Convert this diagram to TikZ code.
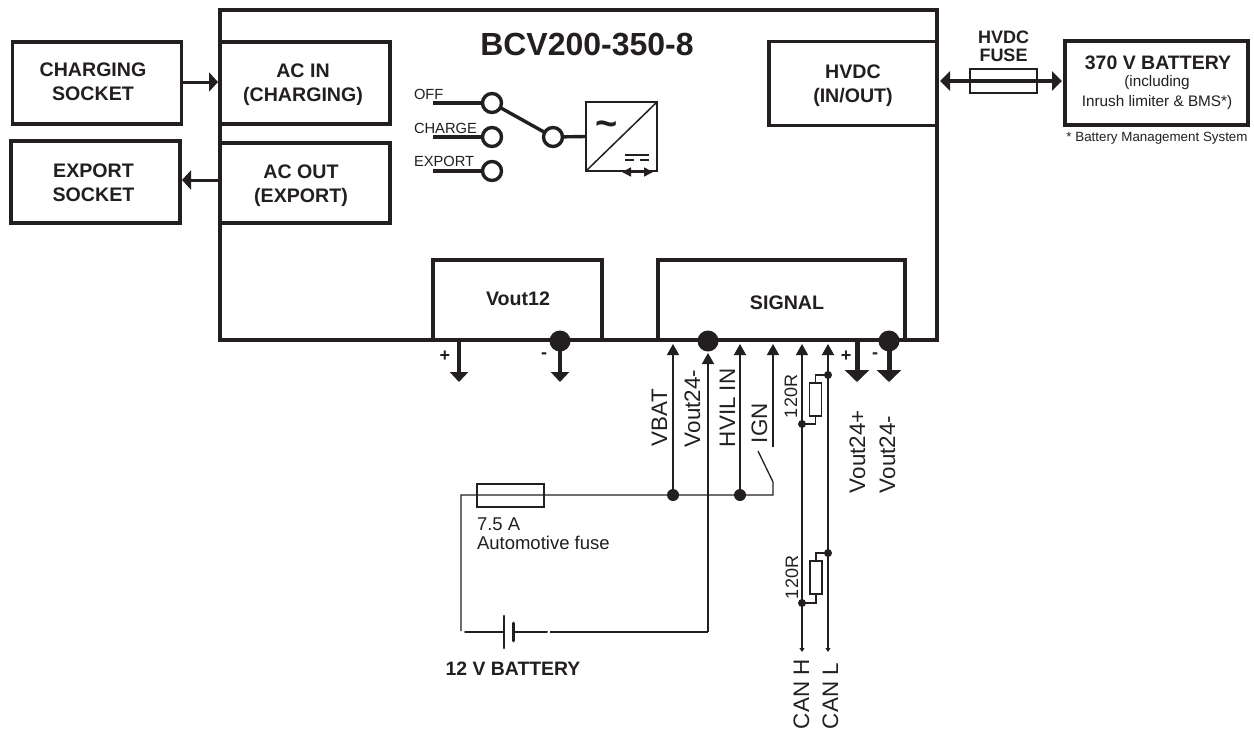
\documentclass[tikz,border=0pt]{standalone}
\usepackage{fontspec}
\setmainfont{Liberation Sans}
\usetikzlibrary{arrows.meta}
\definecolor{ink}{HTML}{231F20}
\newcommand{\fs}[1]{\fontsize{#1}{#1}\selectfont}
\tikzset{
  bx/.style={draw=ink,line width=3.1pt,fill=white,inner sep=0pt,outer sep=0pt},
  bxt/.style={text=ink,inner sep=0pt,outer sep=0pt,align=center,font=\fs{19.6}\bfseries,execute at begin node={\setlength{\baselineskip}{24pt}}},
  thinbx/.style={draw=ink,line width=1.5pt,fill=white,inner sep=0pt,outer sep=0pt},
  sw/.style={circle,draw=ink,line width=3.4pt,fill=white,minimum size=19pt,inner sep=0pt,outer sep=0pt},
  bigdot/.style={circle,fill=ink,minimum size=21pt,inner sep=0pt,outer sep=0pt},
  meddot/.style={circle,fill=ink,minimum size=12pt,inner sep=0pt,outer sep=0pt},
  smalldot/.style={circle,fill=ink,minimum size=8pt,inner sep=0pt,outer sep=0pt},
  wire/.style={draw=ink,line width=1.3pt},
  sigarrow/.style={draw=ink,line width=1.5pt,-{Triangle[width=12pt,length=11pt]}},
  canarrow/.style={draw=ink,line width=1.3pt,-{Triangle[width=5pt,length=4pt]}},
  fatarrow/.style={draw=ink,line width=3pt,-{Triangle[width=19pt,length=9pt]}},
  dblarrow/.style={draw=ink,line width=3.2pt,{Triangle[width=19pt,length=10pt]}-{Triangle[width=19pt,length=10pt]}},
  pwr/.style={draw=ink,line width=3.8pt,-{Triangle[width=18pt,length=10pt]}},
  pwrbig/.style={draw=ink,line width=5pt,-{Triangle[width=24pt,length=12pt]}},
  swline/.style={draw=ink,line width=3.4pt},
  lbl/.style={text=ink,inner sep=0pt,outer sep=0pt,anchor=base west},
  vlbl/.style={text=ink,inner sep=0pt,outer sep=0pt,anchor=base west,rotate=90,font=\fs{22.4}},
  vsmall/.style={text=ink,inner sep=0pt,outer sep=0pt,anchor=base west,rotate=90,font=\fs{18}},
  ctr/.style={text=ink,inner sep=0pt,outer sep=0pt,align=center},
}
\begin{document}
\begin{tikzpicture}[x=1pt,y=-1pt]
\useasboundingbox (0,0) rectangle (1254,731);
\fill[white] (0,0) rectangle (1254,731);

% main box and blocks
\node[bx,minimum width=717pt,minimum height=330pt] (main) at (578.5,175) {};
\node[bx,minimum width=169pt,minimum height=82pt] (csock) at (97,83) {};
\node[bx,minimum width=170pt,minimum height=82pt] (acin) at (305,83) {};
\node[bx,minimum width=169pt,minimum height=82pt] (esock) at (95.5,182) {};
\node[bx,minimum width=170pt,minimum height=80pt] (acout) at (305,183) {};
\node[bx,minimum width=168pt,minimum height=84pt] (hvdc) at (853,83.5) {};
\node[bx,minimum width=183pt,minimum height=84pt] (batt) at (1156.5,83) {};
\node[bx,minimum width=169pt,minimum height=80pt] (vout) at (517.5,300) {};
\node[bx,minimum width=247pt,minimum height=80pt] (signal) at (781.5,300) {};

\node[bxt] (tcsock) at (93,82) {CHARGING\\SOCKET};
\node[bxt] (tacin) at (303,84.5) {AC IN\\(CHARGING)};
\node[bxt] (tesock) at (93.5,183) {EXPORT\\SOCKET};
\node[bxt] (tacout) at (301,186) {AC OUT\\(EXPORT)};
\node[bxt] (thvdc) at (853,85.5) {HVDC\\(IN/OUT)};
\node[bxt] (tvout) at (518,299) {Vout12};
\node[bxt] (tsig) at (787,303) {SIGNAL};

\node[ctr,font=\fs{32}\bfseries] (title) at (587,45) {BCV200-350-8};
\node[ctr,font=\fs{19.5}\bfseries] (battt) at (1158,63) {370 V BATTERY};
\node[ctr,font=\fs{15.3}] (incl) at (1157,83) {(including};
\node[ctr,font=\fs{15.3}] (inr) at (1157,103) {Inrush limiter \& BMS*)};
\node[ctr,font=\fs{13.35}] (foot) at (1157,138) {* Battery Management System};
\node[ctr,font=\fs{18}\bfseries,execute at begin node={\setlength{\baselineskip}{18pt}}] (hfl) at (1003.5,46) {HVDC\\FUSE};

% AC arrows
\coordinate (a1s) at (182,82);
\coordinate (a1e) at (218,82);
\coordinate (a2s) at (220,180);
\coordinate (a2e) at (182,180);
\draw[fatarrow] (a1s) -- (a1e);
\draw[fatarrow] (a2s) -- (a2e);

% HVDC fuse
\coordinate (hl) at (940,81);
\coordinate (hr) at (1062,81);
\draw[dblarrow] (hl) -- (hr);
\node[draw=ink,line width=2pt,minimum width=67pt,minimum height=24pt,inner sep=0pt,outer sep=0pt] (hfuse) at (1003.5,81) {};

% switch
\coordinate (s1) at (433,103);
\coordinate (s2) at (433,137);
\coordinate (s3) at (433,171);
\node[sw] (c1) at (492,103) {};
\node[sw] (c2) at (492,137) {};
\node[sw] (c3) at (492,171) {};
\node[sw] (c4) at (553,137) {};
\draw[swline] (s1) -- (c1);
\draw[swline] (s2) -- (c2);
\draw[swline] (s3) -- (c3);
\draw[swline] (c1) -- (c4);
\node[lbl,font=\fs{14.7}] (toff) at (414,99) {OFF};
\node[lbl,font=\fs{14.7}] (tch) at (414,133) {CHARGE};
\node[lbl,font=\fs{14.7}] (tex) at (414,166) {EXPORT};

% converter
\node[thinbx,minimum width=71pt,minimum height=69pt] (conv) at (621.5,136.5) {};
\draw[swline] (c4) -- (conv.west);
\draw[draw=ink,line width=1.5pt] (conv.south west) -- (conv.north east);
\node[ctr,font=\fs{38}\bfseries] (tilde) at (607,129) {\textasciitilde};
\draw[draw=ink,line width=1.3pt] (625,155) -- (649,155);
\draw[draw=ink,line width=1.3pt] (625,160) -- (634,160) (640,160) -- (649,160);
\draw[draw=ink,line width=1.5pt,{Triangle[width=9pt,length=9pt]}-{Triangle[width=9pt,length=9pt]}] (622,172) -- (653,172);

% Vout12 outputs
\coordinate (p1) at (459,340);
\coordinate (p1e) at (459,382);
\coordinate (p2e) at (560,382);
\draw[pwr] (p1) -- (p1e);
\node[bigdot] (d1) at (560,341) {};
\draw[pwr] (d1.center) -- (p2e);
\node[ctr,font=\fs{18}\bfseries] (tp1) at (445,356) {+};
\node[ctr,font=\fs{18}\bfseries] (tm1) at (544,356) {-};

% SIGNAL outputs
\coordinate (p3) at (857,340);
\coordinate (p3e) at (857,382);
\coordinate (p4e) at (889,382);
\draw[pwrbig] (p3) -- (p3e);
\node[bigdot] (d2) at (889,341) {};
\draw[pwrbig] (d2.center) -- (p4e);
\node[ctr,font=\fs{18}\bfseries] (tp2) at (846,356) {+};
\node[ctr,font=\fs{18}\bfseries] (tm2) at (875,356) {-};
\node[bigdot] (d3) at (708,341) {};

% signal wires
\node[meddot] (jv) at (673,495) {};
\node[meddot] (jh) at (740,495) {};
\coordinate (ve) at (673,344);
\coordinate (vme) at (708,353);
\coordinate (he) at (740,344);
\coordinate (ige) at (773,344);
\coordinate (igs) at (773,447);
\coordinate (ig1) at (758,451);
\coordinate (ig2) at (773,482);
\coordinate (ig3) at (773,495);
\coordinate (wl) at (461,495);
\coordinate (wb) at (461,631);
\coordinate (wr) at (708,632);
\draw[sigarrow] (jv.center) -- (ve);
\draw[sigarrow] (jh.center) -- (he);
\draw[sigarrow] (igs) -- (ige);
\draw[sigarrow] (wr) -- (vme);
\draw[wire] (ig1) -- (ig2) -- (ig3) -- (wl) -- (wb);

% 7.5 A fuse
\node[draw=ink,line width=2.4pt,fill=none,minimum width=67pt,minimum height=23pt,inner sep=0pt,outer sep=0pt] (fuse) at (510.5,495.5) {};
\node[lbl,font=\fs{18.5}] (t75) at (477,530) {7.5 A};
\node[lbl,font=\fs{18.5}] (tauto) at (477,549) {Automotive fuse};

% 12 V battery
\coordinate (bl) at (465,632);
\coordinate (bp1) at (504,632);
\coordinate (bp2) at (513.5,632);
\coordinate (br) at (547,632);
\coordinate (bw) at (550,632);
\draw[draw=ink,line width=2pt,line cap=round] (bl) -- (bp1);
\draw[draw=ink,line width=2pt,line cap=round] (bp2) -- (br);
\draw[draw=ink,line width=2.6pt,line cap=round] (504,616) -- (504,648);
\draw[draw=ink,line width=2.6pt,line cap=round] (513.5,623) -- (513.5,641);
\draw[wire] (bw) -- (wr);
\node[ctr,font=\fs{19.4}\bfseries] (t12) at (513,669) {12 V BATTERY};

% CAN lines
\coordinate (chs) at (802,344);
\coordinate (chl) at (828,344);
\coordinate (che) at (802,652);
\coordinate (cle) at (828,652);
\node[smalldot] (r1a) at (802,424) {};
\node[smalldot] (r1b) at (828,375) {};
\node[smalldot] (r2a) at (802,603) {};
\node[smalldot] (r2b) at (828,553) {};
\draw[sigarrow] (r1a.center) -- (chs);
\draw[sigarrow] (r1b.center) -- (chl);
\draw[wire] (r1a.center) -- (r2a.center);
\draw[wire] (r1b.center) -- (r2b.center);
\draw[canarrow] (r2a.center) -- (che);
\draw[canarrow] (r2b.center) -- (cle);
\node[thinbx,minimum width=12pt,minimum height=33pt] (r1) at (815.5,399.5) {};
\node[thinbx,minimum width=12pt,minimum height=33pt] (r2) at (816,577.5) {};
\draw[wire] (r1a.center) -| (r1.south);
\draw[wire] (r1b.center) -| (r1.north);
\draw[wire] (r2a.center) -| (r2.south);
\draw[wire] (r2b.center) -| (r2.north);

% rotated labels
\node[vlbl] (tv1) at (667,446) {VBAT};
\node[vlbl] (tv2) at (700,447) {Vout24-};
\node[vlbl] (tv3) at (735,447) {HVIL IN};
\node[vlbl] (tv4) at (767,443) {IGN};
\node[vsmall] (tr1) at (797,418) {120R};
\node[vsmall] (tr2) at (798,599) {120R};
\node[vlbl] (tv5) at (865,493) {Vout24+};
\node[vlbl] (tv6) at (895,493) {Vout24-};
\node[vlbl] (tc1) at (809,729) {CAN H};
\node[vlbl] (tc2) at (838,729) {CAN L};
\end{tikzpicture}
\end{document}
